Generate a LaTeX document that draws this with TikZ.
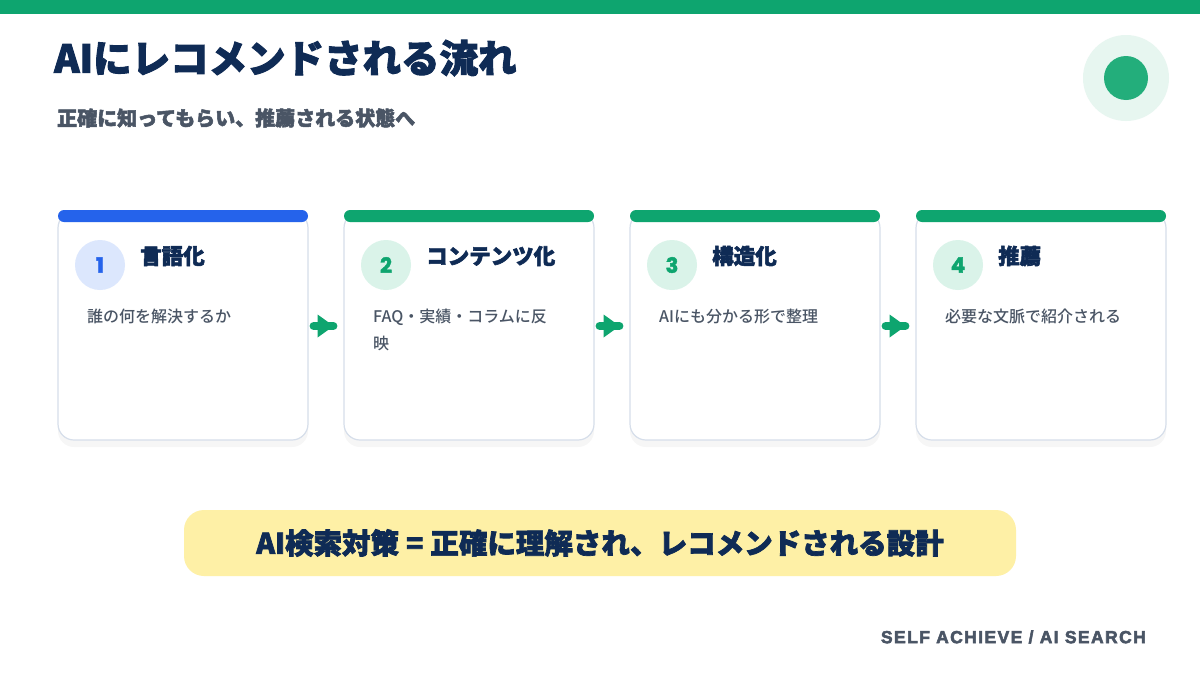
\documentclass[tikz,border=0pt]{standalone}
\usepackage{fontspec}
\setmainfont{Noto Sans CJK JP}
\newfontfamily\jpblack{Noto Sans CJK JP Black}[FakeBold=2.5]
\newfontfamily\jpmed{Noto Sans CJK JP Medium}
\newfontfamily\footfont{Liberation Sans Bold}[FakeBold=3, LetterSpace=8]
\newfontfamily\pop{Poppins}[FakeBold=2]
\usetikzlibrary{shadows,calc}
\definecolor{topgreen}{HTML}{0EA56F}
\definecolor{navy}{HTML}{0F2B55}
\definecolor{txtgray}{HTML}{4A5565}
\definecolor{cblue}{HTML}{2563EB}
\definecolor{lblue}{HTML}{DCE7FD}
\definecolor{lgreen}{HTML}{DAF3E9}
\definecolor{cborder}{HTML}{D6DEEA}
\definecolor{byellow}{HTML}{FEF0A6}
\definecolor{circout}{HTML}{E7F6F0}
\definecolor{circin}{HTML}{23AE7B}
\tikzset{
  card/.style={draw=cborder, line width=1.2pt, fill=white, rounded corners=16pt,
    minimum width=250pt, minimum height=228pt, inner sep=0pt,
    drop shadow={opacity=0.07, shadow xshift=0pt, shadow yshift=-7pt}},
  numcirc/.style={circle, minimum size=50pt, inner sep=0pt, font=\pop\bfseries\fontsize{21}{21}\selectfont},
  cardhead/.style={anchor=west, inner sep=0pt, text=navy, font=\jpblack\fontsize{21.5}{22}\selectfont},
  carddesc/.style={anchor=north west, inner sep=0pt, text=txtgray, align=left,
    font=\jpmed\fontsize{16}{27}\selectfont},
  flowline/.style={draw=topgreen, line width=8pt, line cap=round},
}
\begin{document}
\begin{tikzpicture}[x=1pt,y=-1pt]
\useasboundingbox (0,0) rectangle (1200,675);
\fill[white] (0,0) rectangle (1200,675);
\fill[topgreen] (0,0) rectangle (1200,14);
\node[anchor=west, inner sep=0pt, text=navy, font=\jpblack\fontsize{38.5}{40}\selectfont] (title) at (54,58) {AIにレコメンドされる流れ};
\node[anchor=west, inner sep=0pt, text=txtgray, font=\jpblack\fontsize{20}{20}\selectfont] (sub) at (57,118) {正確に知ってもらい、推薦される状態へ};
\node[circle, fill=circout, minimum size=86pt, inner sep=0pt] (deco) at (1126,78) {};
\node[circle, fill=circin, minimum size=44pt, inner sep=0pt] (decoin) at (deco.center) {};
% cards
\foreach \i/\x/\bar/\cf/\nc/\head/\desc in {
  1/183/cblue/lblue/cblue/言語化/誰の何を解決するか,
  2/469/topgreen/lgreen/topgreen/コンテンツ化/{FAQ・実績・コラムに反\\映},
  3/755/topgreen/lgreen/topgreen/構造化/AIにも分かる形で整理,
  4/1041/topgreen/lgreen/topgreen/推薦/必要な文脈で紹介される}{
  \node[card] (c\i) at (\x,326) {};
  \fill[\bar, rounded corners=6pt] (\x-125,210) rectangle (\x+125,222);
  \node[numcirc, fill=\cf, text=\nc] (n\i) at (\x-83,265) {\i};
  \node[cardhead] (h\i) at (\x-43,256) {\head};
  \node[carddesc] (d\i) at (\x-96,309) {\desc};
}
% arrows
\foreach \a/\b in {1/2,2/3,3/4}{
  \draw[flowline] ($(c\a.east)+(5,0)$) -- ($(c\b.west)+(-10,0)$);
  \fill[topgreen] ($(c\a.east)+(9,-11.5)$) -- ($(c\a.east)+(25,0)$) -- ($(c\a.east)+(9,11.5)$) -- cycle;
}
\node[fill=byellow, rounded corners=20pt, minimum width=832pt, minimum height=66pt, inner sep=0pt,
  text=navy, font=\jpblack\fontsize{28.5}{29}\selectfont] (banner) at (600,543) {AI検索対策\hspace{7pt}=\hspace{7pt}正確に理解され、レコメンドされる設計};
\node[anchor=east, inner sep=0pt, text=txtgray, font=\footfont\fontsize{17.5}{18}\selectfont] (foot) at (1146,637) {SELF ACHIEVE / AI SEARCH};
\end{tikzpicture}
\end{document}
